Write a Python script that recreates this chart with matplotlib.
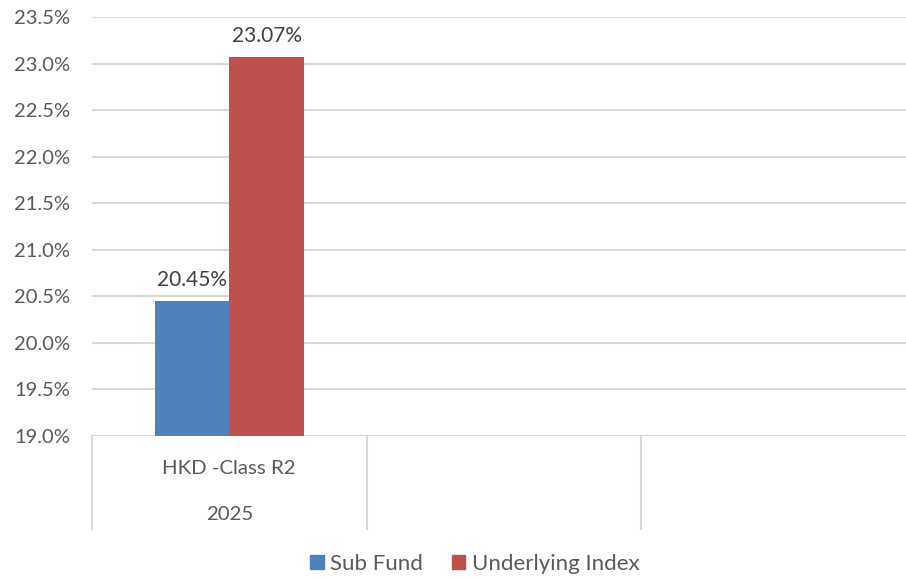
import matplotlib
matplotlib.use('Agg')
import matplotlib.pyplot as plt
from matplotlib.patches import Patch

categories = ['HKD -Class R2', '', '']
group_labels = ['2025']
series_names = ['Sub Fund', 'Underlying Index']
sub_fund = [20.45]
underlying = [23.07]
y_ticks = [19.0, 19.5, 20.0, 20.5, 21.0, 21.5, 22.0, 22.5, 23.0, 23.5]

BLUE = '#4F81BD'
RED = '#C0504D'
GRID = '#D9D9D9'
TXT = '#595959'

plt.rcParams['font.family'] = ['Lato', 'DejaVu Sans']

W, H = 906, 579
fig = plt.figure(figsize=(W / 100, H / 100), dpi=100)
left, right, top, bottom = 92, 915.5, 17, 436
ax = fig.add_axes([left / W, 1 - bottom / H, (right - left) / W, (bottom - top) / H])

n = len(categories)
bw = 0.272
xs = list(range(len(sub_fund)))
ax.bar([x + 0.5 - bw / 2 for x in xs], [v - 19.0 for v in sub_fund], bw, bottom=19.0, color=BLUE, zorder=3)
ax.bar([x + 0.5 + bw / 2 for x in xs], [v - 19.0 for v in underlying], bw, bottom=19.0, color=RED, zorder=3)

for x, v in zip(xs, sub_fund):
    ax.text(x + 0.5 - bw / 2, v + 0.12, f'{v:.2f}%', ha='center', va='bottom', fontsize=15, color='#404040')
for x, v in zip(xs, underlying):
    ax.text(x + 0.5 + bw / 2, v + 0.12, f'{v:.2f}%', ha='center', va='bottom', fontsize=15, color='#404040')

ax.set_xlim(0, n)
ax.set_ylim(19.0, 23.5)
ax.set_yticks(y_ticks)
ax.set_yticklabels([f'{t:.1f}%' for t in y_ticks], fontsize=14.5, color=TXT)
ax.tick_params(axis='y', length=0, pad=16)
ax.set_xticks([])
ax.yaxis.grid(True, color=GRID, linewidth=1.5, zorder=0)
for s in ax.spines.values():
    s.set_visible(False)

# category separators below the axis
sep_len = (529 - 436) / (bottom - top)
for i in range(n):
    ax.plot([i, i], [0, -sep_len], transform=ax.get_xaxis_transform(), color=GRID,
            linewidth=1.5, clip_on=False)
for i, c in enumerate(categories):
    ax.text(i + 0.5, -(468 - 436) / (bottom - top), c, transform=ax.get_xaxis_transform(),
            ha='center', va='center', fontsize=14.7, color=TXT)
ax.text(0.5, -(514 - 436) / (bottom - top), group_labels[0], transform=ax.get_xaxis_transform(),
        ha='center', va='center', fontsize=14.7, color=TXT)

handles = [Patch(color=BLUE, label=series_names[0]), Patch(color=RED, label=series_names[1])]
fig.legend(handles=handles, loc='center', bbox_to_anchor=(475 / W, 1 - 564 / H), ncol=2,
           frameon=False, fontsize=16, handlelength=0.6, handleheight=0.6, handletextpad=0.3,
           columnspacing=1.3, labelcolor=TXT)

fig.savefig('out.png', dpi=100)
